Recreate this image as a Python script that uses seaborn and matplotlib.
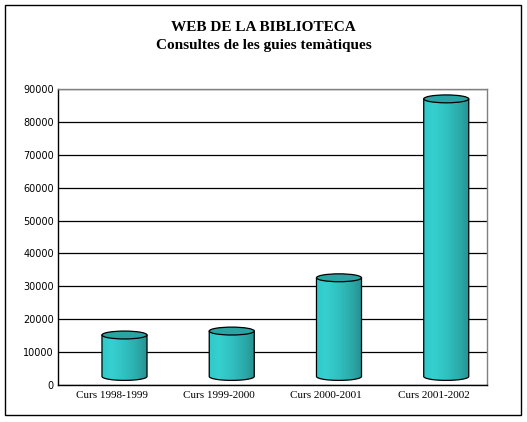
import numpy as np
import pandas as pd
import matplotlib
matplotlib.use("Agg")
import matplotlib.pyplot as plt
import seaborn as sns
from matplotlib.path import Path
from matplotlib.patches import PathPatch, Ellipse, Rectangle
from matplotlib.colors import LinearSegmentedColormap

# ---- data ----
title = "WEB DE LA BIBLIOTECA"
subtitle = "Consultes de les guies temàtiques"
categories = ["Curs 1998-1999", "Curs 1999-2000", "Curs 2000-2001", "Curs 2001-2002"]
consultes = [12600, 13800, 30000, 84400]
yticks = list(range(0, 90001, 10000))

# ---- style ----
sns.set_theme(style="white")
plt.rcParams["font.family"] = ["DejaVu Sans"]
plt.rcParams["text.color"] = "black"

W, H = 527, 422
fig = plt.figure(figsize=(W / 100, H / 100), dpi=100, facecolor="white")
ax = fig.add_axes([58 / W, 1 - 385 / H, (487 - 58) / W, (385 - 89) / H])
ax.set_facecolor("white")

df = pd.DataFrame({"curs": categories, "consultes": consultes})
sns.barplot(data=df, x="curs", y="consultes", color="#33CCCC", saturation=1,
            width=0.42, ax=ax, zorder=2)

ax.set_xlim(-0.5, len(categories) - 0.5)
ax.set_ylim(0, 90000)
ax.set_yticks(yticks)
ax.set_yticklabels([str(t) for t in yticks], fontsize=7, family="DejaVu Sans")
ax.set_xticks(range(len(categories)))
ax.set_xticklabels(categories, fontsize=8, family="Liberation Serif")
ax.tick_params(axis="both", length=0, colors="black", labelcolor="black")
ax.tick_params(axis="y", pad=3)
ax.tick_params(axis="x", pad=4)
ax.set_xlabel("")
ax.set_ylabel("")

ax.set_axisbelow(True)
ax.yaxis.grid(True, color="black", lw=0.9)
ax.xaxis.grid(False)
for s in ["left", "bottom"]:
    ax.spines[s].set_color("black")
    ax.spines[s].set_linewidth(1.0)
for s in ["top", "right"]:
    ax.spines[s].set_color("#808080")
    ax.spines[s].set_linewidth(1.0)

# ---- 3D cylinder look ----
DX = 0.12      # depth shift to the right (category units)
Y0 = 2600      # depth shift upward (data units)
EB = 1200      # ellipse semi-minor axis (data units)
cmap = LinearSegmentedColormap.from_list(
    "cyl", [(0.0, "#30C8C8"), (0.2, "#36D0D0"), (0.5, "#31C0C0"),
            (0.8, "#2BA8A8"), (1.0, "#279090")])
grad = np.linspace(0, 1, 64)[None, :]

for p in list(ax.patches):
    x0 = p.get_x() + DX
    w = p.get_width()
    h = p.get_height()
    p.set_x(x0)
    p.set_y(Y0)
    p.set_edgecolor("none")
    top = Y0 + h
    xc = x0 + w / 2
    th = np.linspace(np.pi, 2 * np.pi, 60)
    arc = np.column_stack([xc + (w / 2) * np.cos(th), Y0 + EB * np.sin(th)])
    verts = np.vstack([[x0, top], [x0, Y0], arc, [x0 + w, top], [x0, top]])
    codes = [Path.MOVETO] + [Path.LINETO] * (len(verts) - 2) + [Path.CLOSEPOLY]
    body = PathPatch(Path(verts, codes), facecolor="none", edgecolor="black",
                     lw=0.9, zorder=3)
    ax.add_patch(body)
    im = ax.imshow(grad, extent=[x0, x0 + w, Y0 - EB, top], aspect="auto",
                   cmap=cmap, zorder=2.5, interpolation="bilinear")
    im.set_clip_path(body)
    ax.add_patch(Ellipse((xc, top), w, 2 * EB, facecolor="#2AA3A3",
                         edgecolor="black", lw=0.9, zorder=4))

ax.set_xlim(-0.5, len(categories) - 0.5)
ax.set_ylim(0, 90000)

# ---- titles ----
fig.text(0.5, 1 - 31 / H, title, ha="center", va="baseline", color="black",
         family="Liberation Serif", weight="bold", fontsize=11)
fig.text(0.5, 1 - 48.5 / H, subtitle, ha="center", va="baseline", color="black",
         family="Liberation Serif", weight="bold", fontsize=11)

# ---- outer border ----
fig.patches.append(Rectangle((5 / W, 1 - 415 / H), 516 / W, 410 / H,
                             transform=fig.transFigure, fill=False,
                             edgecolor="black", lw=1.0))

fig.savefig("out.png", dpi=100, facecolor="white")
